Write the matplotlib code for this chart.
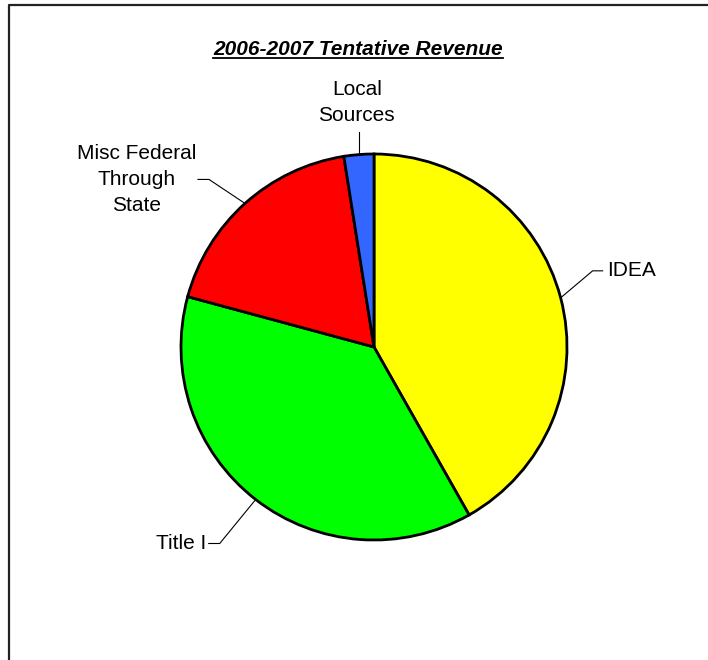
import numpy as np
import matplotlib.pyplot as plt
from matplotlib.lines import Line2D

plt.rcParams["font.family"] = ["Liberation Sans", "DejaVu Sans"]

# revenue shares (percent), drawn clockwise from 12 o'clock
sources = ["IDEA", "Title I", "Misc Federal\nThrough\nState", "Local\nSources"]
shares = [41.8, 37.4, 18.3, 2.5]
colors = ["#FFFF00", "#00FF00", "#FF0000", "#3366FF"]

W, H = 708, 660
cx, cy, r = 374, 313, 193      # pie centre / radius in pixels (from bottom)

fig = plt.figure(figsize=(W / 100, H / 100), dpi=100)
ax = fig.add_axes([(cx - r) / W, (cy - r) / H, 2 * r / W, 2 * r / H])

wedges, _ = ax.pie(shares, colors=colors, startangle=90, counterclock=False,
                   radius=1.0, frame=False,
                   wedgeprops=dict(edgecolor="black", linewidth=2.0))
ax.set_xlim(-1, 1)
ax.set_ylim(-1, 1)
ax.axis("off")

px = 1.0 / r   # one pixel in data units

# leader line layout: elbow offset from wedge edge, horizontal run, text side
leaders = {
    0: dict(elbow=(32, 27), run=10, ha="left"),
    1: dict(elbow=(-36, -44), run=-11, ha="right"),
    2: dict(elbow=(-36, 24), run=-11, ha="right"),
}

for i, w in enumerate(wedges):
    mid = np.deg2rad((w.theta1 + w.theta2) / 2)
    x0, y0 = np.cos(mid), np.sin(mid)
    if i in leaders:
        L = leaders[i]
        x1 = x0 + L["elbow"][0] * px
        y1 = y0 + L["elbow"][1] * px
        x2 = x1 + L["run"] * px
        ax.plot([x0, x1, x2], [y0, y1, y1], color="black", lw=0.8,
                clip_on=False)
        gap = 4 * px if L["ha"] == "left" else -2 * px
        ax.text(x2 + gap, y1, sources[i], ha=L["ha"], va="center",
                multialignment="center", fontsize=15, linespacing=1.45)
    else:
        y1 = y0 + 23 * px
        ax.plot([x0, x0], [y0, y1], color="black", lw=0.8, clip_on=False)
        ax.text(x0 - 2 * px, y1 + 7 * px, sources[i], ha="center", va="bottom",
                multialignment="center", fontsize=15, linespacing=1.45)

# underlined title
title = fig.text(358 / W, 1 - 55 / H, "2006-2007 Tentative Revenue",
                 ha="center", va="baseline", fontsize=15,
                 fontweight="bold", fontstyle="italic")
fig.canvas.draw()
bb = title.get_window_extent()
uy = (H - 58) / H
fig.add_artist(Line2D([bb.x0 / W, bb.x1 / W], [uy, uy], color="black",
                      lw=1.3, transform=fig.transFigure))

# chart area border (left and top edges)
fig.add_artist(Line2D([8.5 / W, 8.5 / W, 1.0], [0.0, 1 - 4.5 / H, 1 - 4.5 / H],
                      color="#222222", lw=1.6, transform=fig.transFigure))

fig.savefig("out.png", dpi=100)
